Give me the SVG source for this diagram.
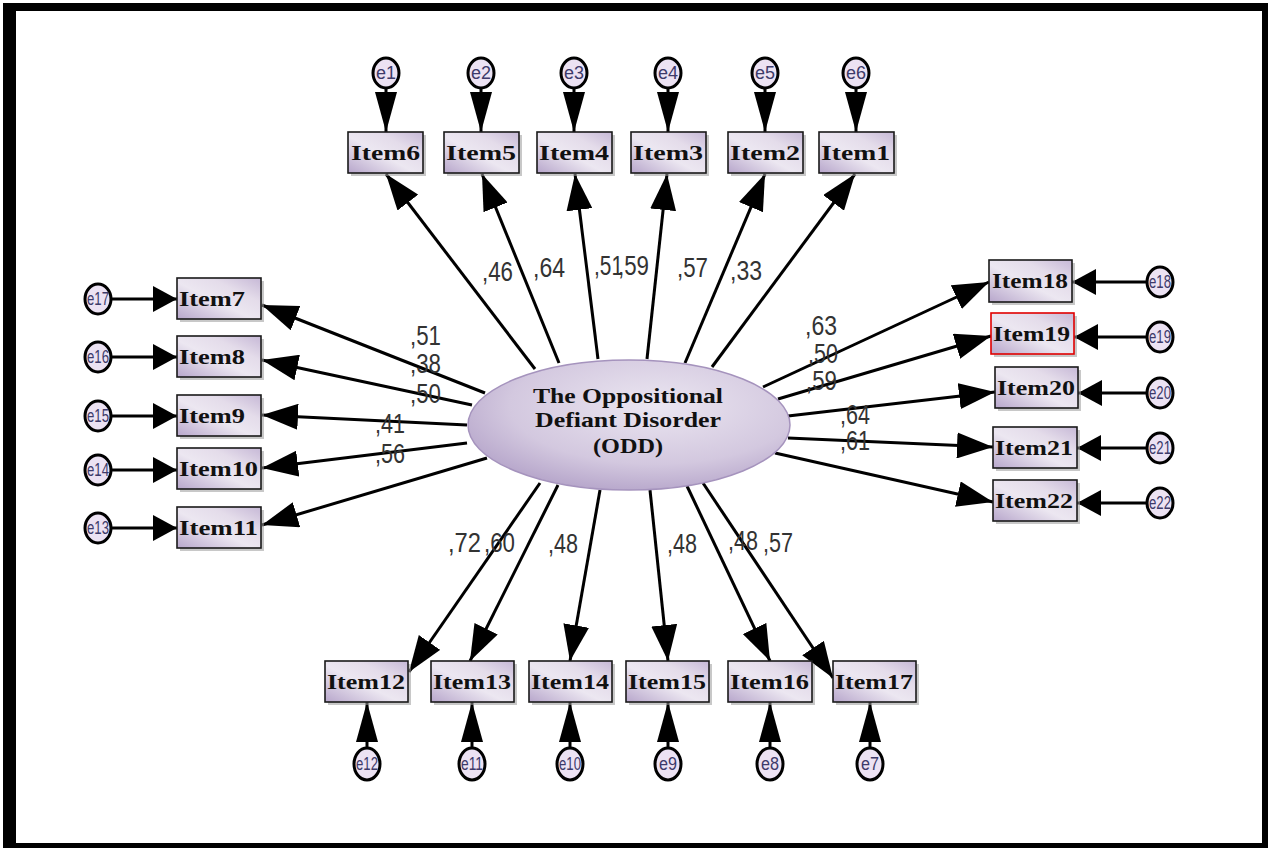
<svg xmlns="http://www.w3.org/2000/svg" width="1268" height="848" viewBox="0 0 1268 848">
<defs>
<linearGradient id="gBox" x1="0" y1="1" x2="1" y2="0">
<stop offset="0" stop-color="#b7a6cb"/>
<stop offset="0.45" stop-color="#ece7f1"/>
<stop offset="0.7" stop-color="#e4dcea"/>
<stop offset="1" stop-color="#c6b8d6"/>
</linearGradient>
<radialGradient id="gEll" cx="0.58" cy="0.35" r="0.75">
<stop offset="0" stop-color="#ebe6f1"/>
<stop offset="0.6" stop-color="#d3c8df"/>
<stop offset="1" stop-color="#ad9bc4"/>
</radialGradient>
<marker id="mMain" markerUnits="userSpaceOnUse" markerWidth="40" markerHeight="26" refX="36" refY="13" orient="auto" viewBox="0 0 40 26">
<path d="M0,0 L36,13 L0,26 z" fill="#000"/>
</marker>
<marker id="mErrV" markerUnits="userSpaceOnUse" markerWidth="42" markerHeight="24" refX="40" refY="11" orient="auto" viewBox="0 0 42 24">
<path d="M0,0 L40,11 L0,22 z" fill="#000"/>
</marker>
<marker id="mErrH" markerUnits="userSpaceOnUse" markerWidth="26" markerHeight="28" refX="24" refY="13" orient="auto" viewBox="0 0 26 28">
<path d="M0,0 L24,13 L0,26 z" fill="#000"/>
</marker>
<style>
.box{fill:url(#gBox);stroke:#1a1a1a;stroke-width:1.6}
.sh{fill:#9a9a9a;opacity:0.55}
.it{font-family:"Liberation Serif","Times New Roman",serif;font-weight:bold;font-size:22px;fill:#111}
.err{fill:#ece2f3;stroke:#000;stroke-width:3}
.et{font-family:"Liberation Sans",Arial,sans-serif;font-size:18px;fill:#3d3a6a}
.ln{stroke:#000;stroke-width:3;fill:none}
.main{marker-end:url(#mMain)}
.ev{marker-end:url(#mErrV)}
.eh{marker-end:url(#mErrH)}
.lb{font-family:"Liberation Sans",Arial,sans-serif;font-size:28px;fill:#333}
.ot{font-family:"Liberation Serif","Times New Roman",serif;font-weight:bold;font-size:21px;fill:#111}
</style>
</defs>
<rect x="3" y="3" width="1265" height="845" fill="#000"/>
<rect x="16" y="11" width="1246" height="832" fill="#fff"/>

<g id="connectors">
<line class="ln main" x1="535" y1="369" x2="386" y2="174"/>
<line class="ln main" x1="559" y1="363" x2="482" y2="174"/>
<line class="ln main" x1="598" y1="359" x2="575" y2="174"/>
<line class="ln main" x1="647" y1="359" x2="667" y2="174"/>
<line class="ln main" x1="685" y1="363" x2="765" y2="174"/>
<line class="ln main" x1="712" y1="367" x2="855" y2="174"/>
<line class="ln main" x1="485" y1="393" x2="262" y2="305"/>
<line class="ln main" x1="472" y1="405" x2="262" y2="360"/>
<line class="ln main" x1="467" y1="425" x2="262" y2="415"/>
<line class="ln main" x1="467" y1="443" x2="262" y2="468"/>
<line class="ln main" x1="487" y1="458" x2="262" y2="525"/>
<line class="ln main" x1="763" y1="387" x2="989" y2="282"/>
<line class="ln main" x1="778" y1="399" x2="991" y2="336"/>
<line class="ln main" x1="788" y1="416" x2="995" y2="392"/>
<line class="ln main" x1="788" y1="438" x2="993" y2="447"/>
<line class="ln main" x1="775" y1="453" x2="993" y2="502"/>
<line class="ln main" x1="540" y1="483" x2="409" y2="672"/>
<line class="ln main" x1="558" y1="485" x2="470" y2="661"/>
<line class="ln main" x1="600" y1="490" x2="570" y2="661"/>
<line class="ln main" x1="650" y1="490" x2="668" y2="661"/>
<line class="ln main" x1="687" y1="486" x2="770" y2="661"/>
<line class="ln main" x1="703" y1="483" x2="833" y2="678"/>
<line class="ln ev" x1="386" y1="86" x2="386" y2="132"/>
<line class="ln ev" x1="481" y1="86" x2="481" y2="132"/>
<line class="ln ev" x1="574" y1="86" x2="574" y2="132"/>
<line class="ln ev" x1="668" y1="86" x2="668" y2="132"/>
<line class="ln ev" x1="765" y1="86" x2="765" y2="132"/>
<line class="ln ev" x1="856" y1="86" x2="856" y2="132"/>
<line class="ln ev" x1="367" y1="749" x2="367" y2="702"/>
<line class="ln ev" x1="472" y1="749" x2="472" y2="702"/>
<line class="ln ev" x1="570" y1="749" x2="570" y2="702"/>
<line class="ln ev" x1="668" y1="749" x2="668" y2="702"/>
<line class="ln ev" x1="770" y1="749" x2="770" y2="702"/>
<line class="ln ev" x1="870" y1="749" x2="870" y2="702"/>
<line class="ln eh" x1="111" y1="299" x2="177" y2="299"/>
<line class="ln eh" x1="111" y1="357" x2="177" y2="357"/>
<line class="ln eh" x1="111" y1="416" x2="177" y2="416"/>
<line class="ln eh" x1="111" y1="470" x2="177" y2="470"/>
<line class="ln eh" x1="111" y1="528" x2="177" y2="528"/>
<line class="ln eh" x1="1147" y1="282" x2="1072" y2="282"/>
<line class="ln eh" x1="1147" y1="337" x2="1074" y2="337"/>
<line class="ln eh" x1="1147" y1="393" x2="1078" y2="393"/>
<line class="ln eh" x1="1147" y1="448" x2="1077" y2="448"/>
<line class="ln eh" x1="1147" y1="503" x2="1077" y2="503"/>
</g>

<g id="labels">
<text class="lb" x="482" y="281" textLength="31" lengthAdjust="spacingAndGlyphs">,46</text>
<text class="lb" x="533" y="277" textLength="32" lengthAdjust="spacingAndGlyphs">,64</text>
<text class="lb" x="594" y="275" textLength="29" lengthAdjust="spacingAndGlyphs">,51</text>
<text class="lb" x="618" y="275" textLength="31" lengthAdjust="spacingAndGlyphs">,59</text>
<text class="lb" x="677" y="277" textLength="31" lengthAdjust="spacingAndGlyphs">,57</text>
<text class="lb" x="730" y="280" textLength="32" lengthAdjust="spacingAndGlyphs">,33</text>
<text class="lb" x="410" y="345" textLength="31" lengthAdjust="spacingAndGlyphs">,51</text>
<text class="lb" x="410" y="373" textLength="31" lengthAdjust="spacingAndGlyphs">,38</text>
<text class="lb" x="410" y="403" textLength="31" lengthAdjust="spacingAndGlyphs">,50</text>
<text class="lb" x="375" y="433" textLength="30" lengthAdjust="spacingAndGlyphs">,41</text>
<text class="lb" x="375" y="463" textLength="30" lengthAdjust="spacingAndGlyphs">,56</text>
<text class="lb" x="805" y="335" textLength="32" lengthAdjust="spacingAndGlyphs">,63</text>
<text class="lb" x="808" y="363" textLength="30" lengthAdjust="spacingAndGlyphs">,50</text>
<text class="lb" x="806" y="390" textLength="31" lengthAdjust="spacingAndGlyphs">,59</text>
<text class="lb" x="840" y="424" textLength="30" lengthAdjust="spacingAndGlyphs">,64</text>
<text class="lb" x="840" y="450" textLength="30" lengthAdjust="spacingAndGlyphs">,61</text>
<text class="lb" x="448" y="552" textLength="33" lengthAdjust="spacingAndGlyphs">,72</text>
<text class="lb" x="484" y="552" textLength="31" lengthAdjust="spacingAndGlyphs">,60</text>
<text class="lb" x="548" y="553" textLength="30" lengthAdjust="spacingAndGlyphs">,48</text>
<text class="lb" x="667" y="553" textLength="30" lengthAdjust="spacingAndGlyphs">,48</text>
<text class="lb" x="728" y="550" textLength="30" lengthAdjust="spacingAndGlyphs">,48</text>
<text class="lb" x="763" y="552" textLength="30" lengthAdjust="spacingAndGlyphs">,57</text>
</g>

<g id="ODD">
<ellipse cx="629" cy="425" rx="161" ry="65" fill="url(#gEll)" stroke="#a593bd" stroke-width="1.5"/>
<text class="ot" x="533" y="403" textLength="190" lengthAdjust="spacingAndGlyphs">The Oppositional</text>
<text class="ot" x="535" y="427" textLength="186" lengthAdjust="spacingAndGlyphs">Defiant Disorder</text>
<text class="ot" x="593" y="453" textLength="70" lengthAdjust="spacingAndGlyphs">(ODD)</text>
</g>

<g id="Item6"><rect class="sh" x="351" y="135" width="75" height="41"/><rect class="box" x="348" y="132" width="75" height="41"/><text class="it" x="351" y="160" textLength="69" lengthAdjust="spacingAndGlyphs">Item6</text></g>
<g id="Item5"><rect class="sh" x="447" y="135" width="75" height="41"/><rect class="box" x="444" y="132" width="75" height="41"/><text class="it" x="446" y="160" textLength="70" lengthAdjust="spacingAndGlyphs">Item5</text></g>
<g id="Item4"><rect class="sh" x="540" y="135" width="75" height="41"/><rect class="box" x="537" y="132" width="75" height="41"/><text class="it" x="539" y="160" textLength="70" lengthAdjust="spacingAndGlyphs">Item4</text></g>
<g id="Item3"><rect class="sh" x="634" y="135" width="75" height="41"/><rect class="box" x="631" y="132" width="75" height="41"/><text class="it" x="633" y="160" textLength="70" lengthAdjust="spacingAndGlyphs">Item3</text></g>
<g id="Item2"><rect class="sh" x="731" y="135" width="75" height="41"/><rect class="box" x="728" y="132" width="75" height="41"/><text class="it" x="730" y="160" textLength="70" lengthAdjust="spacingAndGlyphs">Item2</text></g>
<g id="Item1"><rect class="sh" x="822" y="135" width="75" height="41"/><rect class="box" x="819" y="132" width="75" height="41"/><text class="it" x="821" y="160" textLength="69" lengthAdjust="spacingAndGlyphs">Item1</text></g>

<g id="Item7"><rect class="sh" x="180" y="281" width="84" height="41"/><rect class="box" x="177" y="278" width="84" height="41"/><text class="it" x="179" y="306" textLength="66" lengthAdjust="spacingAndGlyphs">Item7</text></g>
<g id="Item8"><rect class="sh" x="180" y="339" width="84" height="41"/><rect class="box" x="177" y="336" width="84" height="41"/><text class="it" x="179" y="364" textLength="66" lengthAdjust="spacingAndGlyphs">Item8</text></g>
<g id="Item9"><rect class="sh" x="180" y="398" width="84" height="41"/><rect class="box" x="177" y="395" width="84" height="41"/><text class="it" x="179" y="423" textLength="66" lengthAdjust="spacingAndGlyphs">Item9</text></g>
<g id="Item10"><rect class="sh" x="180" y="451" width="84" height="41"/><rect class="box" x="177" y="448" width="84" height="41"/><text class="it" x="179" y="476" textLength="79" lengthAdjust="spacingAndGlyphs">Item10</text></g>
<g id="Item11"><rect class="sh" x="180" y="510" width="84" height="41"/><rect class="box" x="177" y="507" width="84" height="41"/><text class="it" x="179" y="535" textLength="79" lengthAdjust="spacingAndGlyphs">Item11</text></g>

<g id="Item18"><rect class="sh" x="992" y="263" width="83" height="42"/><rect class="box" x="989" y="260" width="83" height="42"/><text class="it" x="992" y="288" textLength="76" lengthAdjust="spacingAndGlyphs">Item18</text></g>
<g id="Item19"><rect class="sh" x="994" y="316" width="83" height="41"/><rect class="box" x="991" y="313" width="83" height="41" style="stroke:#e00000"/><text class="it" x="993" y="341" textLength="77" lengthAdjust="spacingAndGlyphs">Item19</text></g>
<g id="Item20"><rect class="sh" x="998" y="370" width="83" height="41"/><rect class="box" x="995" y="367" width="83" height="41"/><text class="it" x="997" y="395" textLength="78" lengthAdjust="spacingAndGlyphs">Item20</text></g>
<g id="Item21"><rect class="sh" x="996" y="430" width="84" height="41"/><rect class="box" x="993" y="427" width="84" height="41"/><text class="it" x="995" y="455" textLength="78" lengthAdjust="spacingAndGlyphs">Item21</text></g>
<g id="Item22"><rect class="sh" x="996" y="483" width="84" height="41"/><rect class="box" x="993" y="480" width="84" height="41"/><text class="it" x="995" y="508" textLength="78" lengthAdjust="spacingAndGlyphs">Item22</text></g>

<g id="Item12"><rect class="sh" x="328" y="664" width="83" height="41"/><rect class="box" x="325" y="661" width="83" height="41"/><text class="it" x="327" y="689" textLength="78" lengthAdjust="spacingAndGlyphs">Item12</text></g>
<g id="Item13"><rect class="sh" x="434" y="664" width="83" height="41"/><rect class="box" x="431" y="661" width="83" height="41"/><text class="it" x="433" y="689" textLength="78" lengthAdjust="spacingAndGlyphs">Item13</text></g>
<g id="Item14"><rect class="sh" x="532" y="664" width="83" height="41"/><rect class="box" x="529" y="661" width="83" height="41"/><text class="it" x="531" y="689" textLength="78" lengthAdjust="spacingAndGlyphs">Item14</text></g>
<g id="Item15"><rect class="sh" x="629" y="664" width="83" height="41"/><rect class="box" x="626" y="661" width="83" height="41"/><text class="it" x="628" y="689" textLength="78" lengthAdjust="spacingAndGlyphs">Item15</text></g>
<g id="Item16"><rect class="sh" x="731" y="664" width="84" height="41"/><rect class="box" x="728" y="661" width="84" height="41"/><text class="it" x="730" y="689" textLength="79" lengthAdjust="spacingAndGlyphs">Item16</text></g>
<g id="Item17"><rect class="sh" x="836" y="664" width="83" height="41"/><rect class="box" x="833" y="661" width="83" height="41"/><text class="it" x="835" y="689" textLength="78" lengthAdjust="spacingAndGlyphs">Item17</text></g>

<g id="e1"><ellipse class="err" cx="386" cy="73" rx="13" ry="15"/><text class="et" x="386" y="79" text-anchor="middle" textLength="20" lengthAdjust="spacingAndGlyphs">e1</text></g>
<g id="e2"><ellipse class="err" cx="481" cy="73" rx="13" ry="15"/><text class="et" x="481" y="79" text-anchor="middle" textLength="20" lengthAdjust="spacingAndGlyphs">e2</text></g>
<g id="e3"><ellipse class="err" cx="574" cy="73" rx="13" ry="15"/><text class="et" x="574" y="79" text-anchor="middle" textLength="20" lengthAdjust="spacingAndGlyphs">e3</text></g>
<g id="e4"><ellipse class="err" cx="668" cy="73" rx="13" ry="15"/><text class="et" x="668" y="79" text-anchor="middle" textLength="20" lengthAdjust="spacingAndGlyphs">e4</text></g>
<g id="e5"><ellipse class="err" cx="765" cy="73" rx="13" ry="15"/><text class="et" x="765" y="79" text-anchor="middle" textLength="20" lengthAdjust="spacingAndGlyphs">e5</text></g>
<g id="e6"><ellipse class="err" cx="856" cy="73" rx="13" ry="15"/><text class="et" x="856" y="79" text-anchor="middle" textLength="20" lengthAdjust="spacingAndGlyphs">e6</text></g>

<g id="e12"><ellipse class="err" cx="367" cy="764" rx="13" ry="16"/><text class="et" x="367" y="770" text-anchor="middle" textLength="22" lengthAdjust="spacingAndGlyphs">e12</text></g>
<g id="e11"><ellipse class="err" cx="472" cy="764" rx="13" ry="16"/><text class="et" x="472" y="770" text-anchor="middle" textLength="22" lengthAdjust="spacingAndGlyphs">e11</text></g>
<g id="e10"><ellipse class="err" cx="570" cy="764" rx="13" ry="16"/><text class="et" x="570" y="770" text-anchor="middle" textLength="22" lengthAdjust="spacingAndGlyphs">e10</text></g>
<g id="e9"><ellipse class="err" cx="668" cy="764" rx="13" ry="16"/><text class="et" x="668" y="770" text-anchor="middle" textLength="18" lengthAdjust="spacingAndGlyphs">e9</text></g>
<g id="e8"><ellipse class="err" cx="770" cy="764" rx="13" ry="16"/><text class="et" x="770" y="770" text-anchor="middle" textLength="18" lengthAdjust="spacingAndGlyphs">e8</text></g>
<g id="e7"><ellipse class="err" cx="870" cy="764" rx="13" ry="16"/><text class="et" x="870" y="770" text-anchor="middle" textLength="18" lengthAdjust="spacingAndGlyphs">e7</text></g>

<g id="e17"><ellipse class="err" cx="98" cy="299" rx="13" ry="15"/><text class="et" x="98" y="305" text-anchor="middle" textLength="22" lengthAdjust="spacingAndGlyphs">e17</text></g>
<g id="e16"><ellipse class="err" cx="98" cy="357" rx="13" ry="15"/><text class="et" x="98" y="363" text-anchor="middle" textLength="22" lengthAdjust="spacingAndGlyphs">e16</text></g>
<g id="e15"><ellipse class="err" cx="98" cy="416" rx="13" ry="15"/><text class="et" x="98" y="422" text-anchor="middle" textLength="22" lengthAdjust="spacingAndGlyphs">e15</text></g>
<g id="e14"><ellipse class="err" cx="98" cy="470" rx="13" ry="15"/><text class="et" x="98" y="476" text-anchor="middle" textLength="22" lengthAdjust="spacingAndGlyphs">e14</text></g>
<g id="e13"><ellipse class="err" cx="98" cy="528" rx="13" ry="15"/><text class="et" x="98" y="534" text-anchor="middle" textLength="22" lengthAdjust="spacingAndGlyphs">e13</text></g>

<g id="e18"><ellipse class="err" cx="1160" cy="282" rx="13" ry="15"/><text class="et" x="1160" y="288" text-anchor="middle" textLength="22" lengthAdjust="spacingAndGlyphs">e18</text></g>
<g id="e19"><ellipse class="err" cx="1160" cy="337" rx="13" ry="15"/><text class="et" x="1160" y="343" text-anchor="middle" textLength="22" lengthAdjust="spacingAndGlyphs">e19</text></g>
<g id="e20"><ellipse class="err" cx="1160" cy="393" rx="13" ry="15"/><text class="et" x="1160" y="399" text-anchor="middle" textLength="22" lengthAdjust="spacingAndGlyphs">e20</text></g>
<g id="e21"><ellipse class="err" cx="1160" cy="448" rx="13" ry="15"/><text class="et" x="1160" y="454" text-anchor="middle" textLength="22" lengthAdjust="spacingAndGlyphs">e21</text></g>
<g id="e22"><ellipse class="err" cx="1160" cy="503" rx="13" ry="15"/><text class="et" x="1160" y="509" text-anchor="middle" textLength="22" lengthAdjust="spacingAndGlyphs">e22</text></g>
</svg>
